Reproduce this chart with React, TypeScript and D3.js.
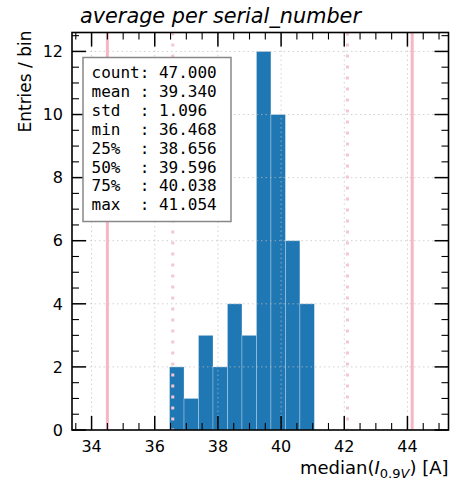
import React, { useRef, useEffect } from 'react';
import * as d3 from 'd3';

// histogram of median(I_0.9V) averaged per serial number
const binEdges = [36.468, 36.927, 37.385, 37.844, 38.302, 38.761, 39.220, 39.678, 40.137, 40.595, 41.054];
const binCounts = [2, 1, 3, 2, 4, 3, 12, 10, 6, 4];

const xMajorTicks = [34, 36, 38, 40, 42, 44];
const yMajorTicks = [0, 2, 4, 6, 8, 10, 12];

// pink reference lines
const solidLines = [34.5, 44.15];
const dottedLines = [36.57, 42.1];

const statNames = ['count', 'mean', 'std', 'min', '25%', '50%', '75%', 'max'];
const statValues = ['47.000', '39.340', '1.096', '36.468', '38.656', '39.596', '40.038', '41.054'];

const App = () => {
    const ref = useRef<SVGSVGElement>(null);

    useEffect(() => {
        const W = 450, H = 484;
        const left = 72, right = 448.5, top = 32.5, bottom = 430;

        const svg = d3.select(ref.current).attr('width', W).attr('height', H);
        svg.selectAll('*').remove();

        const x = d3.scaleLinear().domain([33.38, 45.3]).range([left, right]);
        const y = d3.scaleLinear().domain([0, 12.6]).range([bottom, top]);

        const font = 'DejaVu Sans, sans-serif';

        // bars
        svg.append('g')
            .selectAll('rect')
            .data(binCounts)
            .join('rect')
            .attr('x', (d, i) => x(binEdges[i]))
            .attr('width', (d, i) => x(binEdges[i + 1]) - x(binEdges[i]))
            .attr('y', (d) => y(d))
            .attr('height', (d) => y(0) - y(d))
            .attr('fill', '#1f77b4')
            .attr('stroke', 'rgba(255,255,255,0.35)')
            .attr('stroke-width', 0.8);

        // grid
        const grid = svg.append('g')
            .attr('stroke', 'rgba(190,190,190,0.7)')
            .attr('stroke-width', 1)
            .attr('stroke-dasharray', '1.5,3');
        xMajorTicks.forEach((t) => {
            grid.append('line').attr('x1', x(t)).attr('x2', x(t)).attr('y1', top).attr('y2', bottom);
        });
        yMajorTicks.forEach((t) => {
            grid.append('line').attr('x1', left).attr('x2', right).attr('y1', y(t)).attr('y2', y(t));
        });

        // pink lines
        solidLines.forEach((v) => {
            svg.append('line')
                .attr('x1', x(v)).attr('x2', x(v)).attr('y1', top).attr('y2', bottom)
                .attr('stroke', '#f7b6c4').attr('stroke-width', 3);
        });
        dottedLines.forEach((v) => {
            svg.append('line')
                .attr('x1', x(v)).attr('x2', x(v)).attr('y1', top).attr('y2', bottom)
                .attr('stroke', '#f5c6d0').attr('stroke-width', 3)
                .attr('stroke-dasharray', '3,8');
        });

        // ticks, inward on all sides
        const ticks = svg.append('g').attr('stroke', '#000');
        const xMinor = d3.range(33.5, 45.3, 0.5).filter((t) => !xMajorTicks.includes(t));
        const yMinor = d3.range(0.5, 12.6, 0.5).filter((t) => !yMajorTicks.includes(t));
        const tick = (x1, y1, x2, y2, w) =>
            ticks.append('line').attr('x1', x1).attr('y1', y1).attr('x2', x2).attr('y2', y2).attr('stroke-width', w);
        xMajorTicks.forEach((t) => {
            tick(x(t), bottom, x(t), bottom - 14, 1.5);
            tick(x(t), top, x(t), top + 14, 1.5);
        });
        xMinor.forEach((t) => {
            tick(x(t), bottom, x(t), bottom - 7, 1.1);
            tick(x(t), top, x(t), top + 7, 1.1);
        });
        yMajorTicks.forEach((t) => {
            tick(left, y(t), left + 14, y(t), 1.5);
            tick(right, y(t), right - 14, y(t), 1.5);
        });
        yMinor.forEach((t) => {
            tick(left, y(t), left + 7, y(t), 1.1);
            tick(right, y(t), right - 7, y(t), 1.1);
        });

        // frame
        svg.append('rect')
            .attr('x', left).attr('y', top)
            .attr('width', right - left).attr('height', bottom - top)
            .attr('fill', 'none').attr('stroke', '#000').attr('stroke-width', 1.6);

        // tick labels
        svg.append('g')
            .selectAll('text')
            .data(xMajorTicks)
            .join('text')
            .attr('x', (d) => x(d))
            .attr('y', 452)
            .attr('text-anchor', 'middle')
            .style('font-family', font)
            .style('font-size', '16px')
            .text((d) => d);
        svg.append('g')
            .selectAll('text')
            .data(yMajorTicks)
            .join('text')
            .attr('x', 63)
            .attr('y', (d) => y(d))
            .attr('dy', '0.36em')
            .attr('text-anchor', 'end')
            .style('font-family', font)
            .style('font-size', '16px')
            .text((d) => d);

        // axis labels
        svg.append('text')
            .attr('transform', `translate(31, ${top - 2}) rotate(-90)`)
            .attr('text-anchor', 'end')
            .style('font-family', font)
            .style('font-size', '17px')
            .text('Entries / bin');

        const xl = svg.append('text')
            .attr('x', right)
            .attr('y', 474)
            .attr('text-anchor', 'end')
            .style('font-family', font)
            .style('font-size', '18px');
        xl.append('tspan').text('median(');
        xl.append('tspan').style('font-style', 'italic').text('I');
        xl.append('tspan').attr('dy', 4).style('font-size', '13px').text('0.9');
        xl.append('tspan').style('font-size', '13px').style('font-style', 'italic').text('V');
        xl.append('tspan').attr('dy', -4).text(') [A]');

        // title
        svg.append('text')
            .attr('x', 80)
            .attr('y', 23)
            .style('font-family', font)
            .style('font-size', '20.8px')
            .style('font-style', 'italic')
            .text('average per serial_number');

        // stats box
        svg.append('rect')
            .attr('x', 83).attr('y', 57.5)
            .attr('width', 148).attr('height', 164)
            .attr('fill', '#fff')
            .attr('stroke', '#888').attr('stroke-width', 1.5);
        svg.append('g')
            .selectAll('text')
            .data(statNames)
            .join('text')
            .attr('x', 91.5)
            .attr('y', (d, i) => 78 + i * 18.9)
            .attr('xml:space', 'preserve')
            .style('white-space', 'pre')
            .style('font-family', 'DejaVu Sans Mono, monospace')
            .style('font-size', '16px')
            .text((d, i) => `${d.padEnd(5, ' ')}: ${statValues[i]}`);
    }, []);

    return <svg ref={ref} style={{ position: 'absolute', left: 0, top: 0 }}></svg>;
};

export default App;
